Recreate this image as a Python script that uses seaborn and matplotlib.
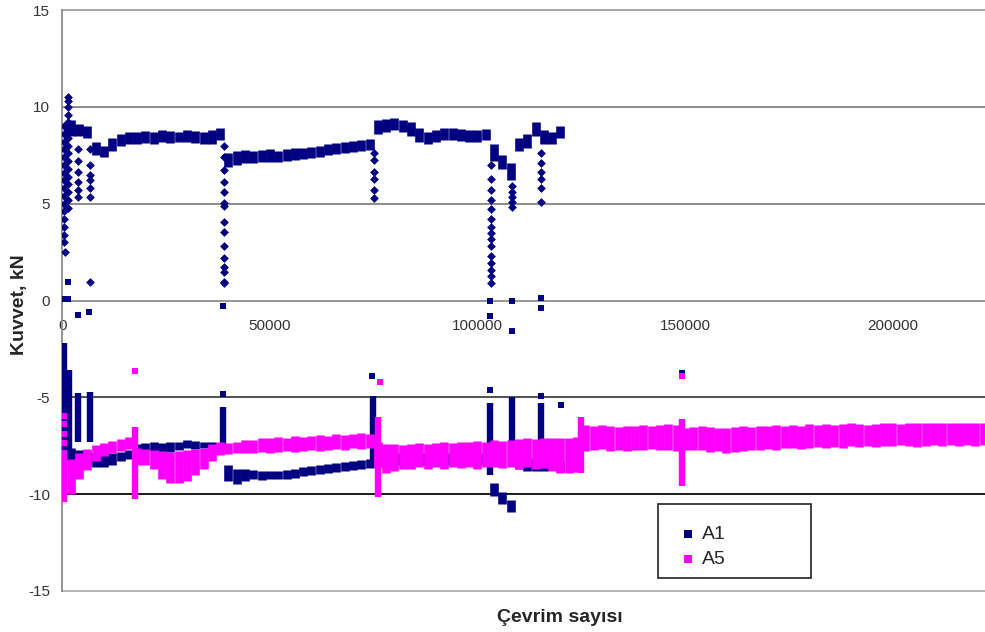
import matplotlib
matplotlib.use("Agg")
import matplotlib.pyplot as plt
from matplotlib.patches import Rectangle
import pandas as pd
import seaborn as sns

NAVY = "#000080"
PINK = "#ff00ff"

# --- A1 upper band (max force), read every 2000 cycles ---
a1_top_x = list(range(2000, 122000, 2000))
a1_top_hi = [9.3, 9.1, 9.0, 8.2, 8.0, 8.4, 8.6, 8.7, 8.7, 8.75,
             8.7, 8.8, 8.75, 8.7, 8.8, 8.75, 8.7, 8.8, 8.9, 7.6,
             7.7, 7.75, 7.7, 7.75, 7.8, 7.7, 7.8, 7.85, 7.9, 7.95,
             8.0, 8.1, 8.15, 8.2, 8.25, 8.3, 8.35, 9.3, 9.35, 9.4,
             9.3, 9.2, 8.9, 8.7, 8.8, 8.9, 8.9, 8.85, 8.8, 8.8,
             8.85, 8.1, 7.5, 7.1, 8.4, 8.6, 9.2, 8.8, 8.7, 9.0]
a1_top_lo = [8.5, 8.5, 8.4, 7.5, 7.4, 7.7, 8.0, 8.1, 8.1, 8.15,
             8.1, 8.2, 8.15, 8.2, 8.2, 8.15, 8.1, 8.1, 8.3, 6.9,
             7.0, 7.1, 7.1, 7.15, 7.15, 7.15, 7.2, 7.25, 7.3, 7.35,
             7.4, 7.5, 7.55, 7.6, 7.65, 7.7, 7.75, 8.6, 8.7, 8.8,
             8.7, 8.5, 8.2, 8.1, 8.2, 8.3, 8.3, 8.25, 8.2, 8.2,
             8.3, 7.2, 6.8, 6.2, 7.7, 7.9, 8.5, 8.1, 8.1, 8.4]

# --- A1 lower band (min force) ---
a1_bot_x = list(range(2000, 122000, 2000))
a1_bot_hi = [-7.6, -7.7, -7.8, -7.9, -8.0, -7.9, -7.8, -7.7, -7.4, -7.35,
             -7.3, -7.35, -7.3, -7.3, -7.2, -7.25, -7.3, -7.3, -7.35, -8.5,
             -8.7, -8.7, -8.75, -8.8, -8.8, -8.8, -8.75, -8.7, -8.6, -8.55,
             -8.5, -8.45, -8.4, -8.35, -8.3, -8.25, -8.2, -7.9, -7.9, -7.9,
             -7.9, -7.9, -7.9, -7.9, -7.9, -7.9, -7.9, -7.9, -7.9, -7.9,
             -7.9, -9.4, -9.9, -10.3, -8.2, -8.2, -8.1, -8.2, -8.2, -8.3]
a1_bot_lo = [-8.3, -8.4, -8.5, -8.6, -8.6, -8.5, -8.3, -8.2, -7.9, -7.7,
             -7.75, -7.85, -7.8, -7.7, -7.6, -7.65, -7.6, -7.6, -7.65, -9.3,
             -9.5, -9.3, -9.2, -9.25, -9.2, -9.2, -9.2, -9.15, -9.05, -9.0,
             -8.95, -8.9, -8.85, -8.8, -8.75, -8.7, -8.65, -8.5, -8.5, -8.5,
             -8.5, -8.5, -8.5, -8.5, -8.5, -8.5, -8.5, -8.5, -8.5, -8.5,
             -8.5, -10.1, -10.5, -10.9, -8.7, -8.8, -8.8, -8.8, -8.7, -8.8]

# --- A5 band ---
a5_x = list(range(2000, 224000, 2000))
a5_hi = [-8.2, -7.85, -7.65, -7.45, -7.35, -7.25, -7.15, -7.05, -7.6, -7.65,
         -7.7, -7.75, -7.8, -7.75, -7.7, -7.65, -7.6, -7.4, -7.3, -7.35,
         -7.3, -7.2, -7.2, -7.1, -7.1, -7.05, -7.1, -7.0, -7.05, -7.0,
         -6.95, -7.0, -6.9, -6.95, -6.9, -6.85, -6.9, -7.3, -7.4, -7.4,
         -7.45, -7.4, -7.35, -7.4, -7.35, -7.3, -7.35, -7.3, -7.3, -7.25,
         -7.3, -7.2, -7.25, -7.2, -7.15, -7.1, -7.15, -7.1, -7.1, -7.1,
         -7.1, -7.05, -6.45, -6.5, -6.45, -6.5, -6.55, -6.5, -6.5, -6.45,
         -6.5, -6.45, -6.4, -6.45, -6.6, -6.55, -6.5, -6.55, -6.6, -6.6,
         -6.55, -6.5, -6.55, -6.5, -6.5, -6.45, -6.5, -6.45, -6.5, -6.4,
         -6.45, -6.4, -6.45, -6.4, -6.35, -6.4, -6.45, -6.4, -6.3, -6.35,
         -6.4, -6.3, -6.35, -6.3, -6.35, -6.3, -6.35, -6.3, -6.3, -6.35,
         -6.3]
a5_lo = [-10.0, -9.2, -8.75, -8.3, -8.05, -7.9, -7.75, -7.65, -8.5, -8.5,
         -8.7, -9.2, -9.4, -9.4, -9.3, -9.0, -8.7, -8.3, -8.0, -7.95,
         -7.9, -7.9, -7.85, -7.8, -7.85, -7.8, -7.75, -7.8, -7.75, -7.7,
         -7.75, -7.7, -7.65, -7.7, -7.6, -7.65, -7.6, -8.6, -8.9, -8.8,
         -8.7, -8.7, -8.6, -8.7, -8.6, -8.7, -8.6, -8.65, -8.6, -8.7,
         -8.6, -8.6, -8.65, -8.6, -8.7, -8.6, -8.7, -8.65, -8.8, -8.9,
         -8.9, -8.85, -7.75, -7.7, -7.65, -7.75, -7.7, -7.75, -7.7, -7.7,
         -7.65, -7.7, -7.7, -7.75, -7.7, -7.7, -7.7, -7.8, -7.75, -7.85,
         -7.8, -7.75, -7.7, -7.7, -7.65, -7.7, -7.6, -7.6, -7.65, -7.6,
         -7.55, -7.6, -7.55, -7.6, -7.5, -7.55, -7.5, -7.55, -7.5, -7.5,
         -7.45, -7.5, -7.55, -7.5, -7.45, -7.5, -7.45, -7.5, -7.45, -7.5,
         -7.45]

# --- solid vertical runs of points (spikes) ---
a1_bar_x = [300, 1500, 3700, 6600, 38700, 74800, 103100, 108300, 115300]
a1_bar_hi = [-2.2, -3.6, -4.8, -4.75, -5.5, -4.95, -5.3, -5.0, -5.3]
a1_bar_lo = [-8.2, -8.3, -7.3, -7.3, -7.4, -8.3, -9.0, -8.5, -8.5]
a5_bar_x = [300, 17500, 76000, 125000, 149200]
a5_bar_hi = [-7.7, -6.55, -6.0, -6.0, -6.1]
a5_bar_lo = [-10.4, -10.25, -10.15, -8.9, -9.6]

# --- single points ---
a1_pts_x = [200, 800, 1300, 1300, 3700, 6500, 38700, 38700, 74500, 103100,
            103100, 103100, 108300, 108300, 115300, 115300, 115300, 120100, 149300]
a1_pts_y = [0.1, 0.1, 0.1, 0.95, -0.75, -0.6, -0.3, -4.85, -3.9, 0.0,
            -0.8, -4.6, 0.0, -1.6, 0.15, -0.4, -4.95, -5.4, -3.75]
a5_pts_x = [300, 300, 300, 300, 17500, 76500, 149200]
a5_pts_y = [-5.95, -6.4, -6.9, -7.35, -3.65, -4.2, -3.9]

# --- A1 peak dips (diamonds) ---
dip_x = [400, 1300, 700, 3700, 6600, 38800, 75000, 103200, 108300, 115300]
dip_y = [
    [3.0, 3.4, 3.8, 4.2, 4.6, 5.0, 5.4, 5.8, 6.2, 6.6, 7.0, 7.4, 7.8, 8.2, 8.6, 9.0],
    [4.8, 5.2, 5.6, 6.0, 6.4, 6.8, 7.2, 7.6, 8.0, 8.4, 8.8, 9.2, 9.6, 10.0, 10.3, 10.5],
    [2.5],
    [7.8, 7.2, 6.65, 6.1, 5.7, 5.35],
    [7.8, 7.0, 6.5, 6.2, 5.8, 5.35, 0.98],
    [8.0, 7.4, 6.75, 6.1, 5.6, 5.05, 4.9, 4.05, 3.55, 2.8, 2.2, 1.75, 1.45, 0.98, 0.9],
    [7.6, 7.25, 6.65, 6.25, 5.7, 5.3],
    [7.0, 6.25, 5.7, 5.2, 4.7, 4.2, 3.8, 3.5, 3.15, 2.8, 2.3, 1.95, 1.6, 1.25, 0.9],
    [5.9, 5.6, 5.35, 5.1, 4.85],
    [7.6, 7.1, 6.65, 6.25, 5.8, 5.1],
]

y_ticks = [-15, -10, -5, 0, 5, 10, 15]
x_ticks = [0, 50000, 100000, 150000, 200000]

sns.set_style("white")
plt.rcParams["font.family"] = ["Liberation Sans", "DejaVu Sans"]
plt.rcParams["axes.unicode_minus"] = False

fig = plt.figure(figsize=(9.85, 6.32), dpi=100)
ax = fig.add_axes([62.5 / 985, 1 - 591 / 632, 922.5 / 985, 581 / 632])

# horizontal grid lines
grid_cols = {15: "#a8a8a8", 10: "#8c8c8c", 5: "#8c8c8c", -5: "#505050",
             -10: "#1a1a1a", -15: "#b4b4b4"}
for yv, c in grid_cols.items():
    ax.axhline(yv, color=c, lw=1.4, zorder=1, clip_on=False)

# A1
ax.vlines(a1_top_x, a1_top_lo, a1_top_hi, colors=NAVY, linewidth=6.2,
          capstyle="butt", zorder=3)
ax.vlines(a1_bot_x, a1_bot_lo, a1_bot_hi, colors=NAVY, linewidth=6.2,
          capstyle="butt", zorder=3)
ax.vlines(a1_bar_x, a1_bar_lo, a1_bar_hi, colors=NAVY, linewidth=4.6,
          capstyle="butt", zorder=3)
dips = pd.DataFrame({
    "x": [x for x, ys in zip(dip_x, dip_y) for _ in ys],
    "y": [y for ys in dip_y for y in ys],
})
sns.scatterplot(data=dips, x="x", y="y", marker="D", s=20, color=NAVY,
                linewidth=0, ax=ax, zorder=3)
sns.scatterplot(x=a1_pts_x, y=a1_pts_y, marker="s", s=24, color=NAVY,
                linewidth=0, ax=ax, zorder=3, label="A1")

# A5
ax.vlines(a5_x, a5_lo, a5_hi, colors=PINK, linewidth=6.2,
          capstyle="butt", zorder=4)
ax.vlines(a5_bar_x, a5_bar_lo, a5_bar_hi, colors=PINK, linewidth=4.6,
          capstyle="butt", zorder=4)
sns.scatterplot(x=a5_pts_x, y=a5_pts_y, marker="s", s=24, color=PINK,
                linewidth=0, ax=ax, zorder=4, label="A5")

ax.set_xlim(0, 222300)
ax.set_ylim(-15, 15)

for side in ["top", "right"]:
    ax.spines[side].set_visible(False)
ax.spines["bottom"].set_position(("data", 0))
for side in ["bottom", "left"]:
    ax.spines[side].set_color("#8c8c8c")
    ax.spines[side].set_linewidth(1.3)
    ax.spines[side].set_zorder(2)

ax.set_yticks(y_ticks)
ax.set_yticklabels([str(v) for v in y_ticks])
ax.set_xticks(x_ticks)
ax.set_xticklabels([str(v) for v in x_ticks])
ax.tick_params(axis="y", direction="out", length=3.6, width=1, color="#8c8c8c",
               pad=5.4, labelsize=11, labelcolor="#333333")
ax.tick_params(axis="x", direction="out", length=3.6, width=1, color="#8c8c8c",
               pad=9.4, labelsize=11, labelcolor="#333333")
ax.set_xlabel("")
ax.set_ylabel("")

fig.text(20 / 985, 1 - 305 / 632, "Kuvvet, kN", rotation=90, ha="center",
         va="center", fontsize=14, fontweight="bold")
fig.text(560 / 985, 1 - 617 / 632, "Çevrim sayısı", ha="center", va="center",
         fontsize=14, fontweight="bold")

# legend with Excel-like box
ax.legend(loc="upper left", bbox_to_anchor=(0.6694, 0.1136), frameon=False,
          fontsize=14, handlelength=0.8, handletextpad=0.35, labelspacing=0.4,
          borderpad=0, borderaxespad=0, markerscale=1.15)
ax.add_patch(Rectangle((0.6455, 0.0224), 0.1659, 0.1273, transform=ax.transAxes,
                       fill=False, ec="#222222", lw=1.2, zorder=5))

fig.savefig("out.png", dpi=100)
